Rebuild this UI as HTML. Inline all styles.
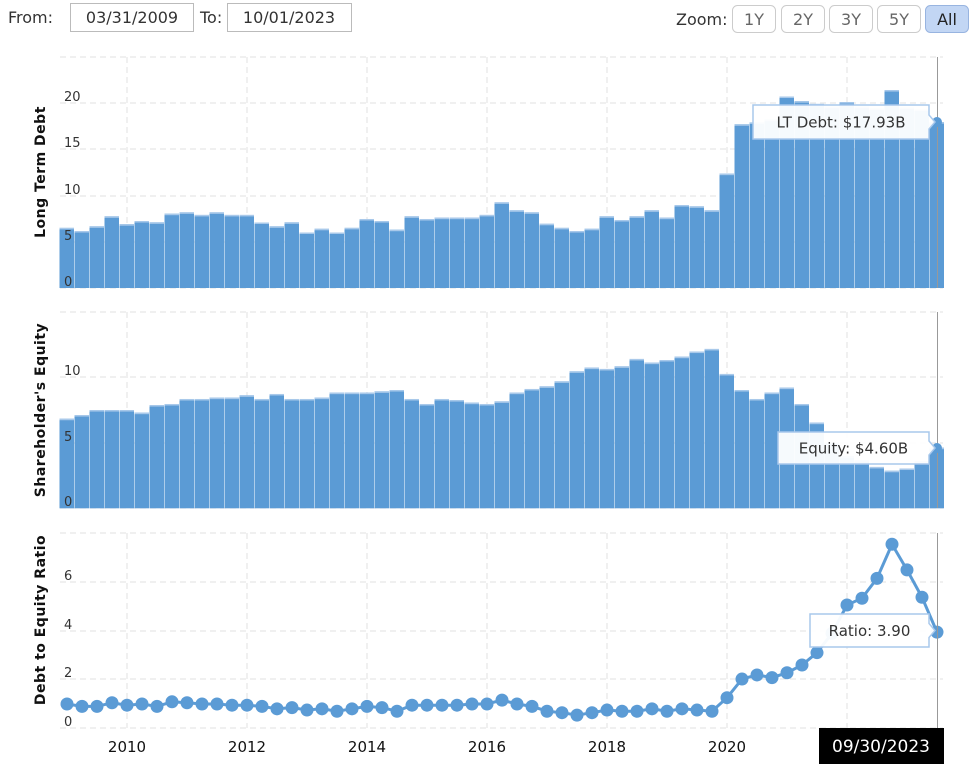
<!DOCTYPE html>
<html><head><meta charset="utf-8">
<style>
body{margin:0;width:972px;height:764px;overflow:hidden;background:#fff;font-family:"DejaVu Sans","Liberation Sans",sans-serif;}
svg{position:absolute;left:0;top:0}
</style></head><body>
<svg id="s" width="972" height="764" xmlns="http://www.w3.org/2000/svg"></svg>
<script>
var debt=[6.5,6.16,6.67,7.75,6.9,7.24,7.1,8.03,8.18,7.9,8.18,7.9,7.9,7.08,6.67,7.1,6.0,6.4,6.0,6.5,7.46,7.24,6.3,7.75,7.46,7.6,7.6,7.6,7.9,9.26,8.4,8.18,6.94,6.5,6.16,6.4,7.75,7.35,7.75,8.4,7.6,8.97,8.83,8.4,12.36,17.7,17.9,18.2,20.7,20.2,19.9,19.6,20.1,19.6,19.4,21.4,19.5,19.3,17.93];
var eq=[6.8,7.08,7.46,7.46,7.46,7.26,7.84,7.92,8.3,8.3,8.4,8.4,8.58,8.3,8.68,8.3,8.3,8.4,8.78,8.78,8.78,8.88,8.98,8.3,7.92,8.3,8.22,8.02,7.92,8.12,8.78,9.06,9.26,9.64,10.4,10.68,10.58,10.78,11.34,11.06,11.26,11.51,11.9,12.1,10.2,8.98,8.3,8.78,9.16,7.92,6.5,5.0,3.96,3.66,3.14,2.85,3.02,3.58,4.6];
var rat=[0.98,0.88,0.88,1.03,0.93,0.98,0.88,1.07,1.03,0.98,0.98,0.93,0.93,0.88,0.78,0.83,0.73,0.78,0.68,0.78,0.88,0.83,0.68,0.93,0.93,0.93,0.93,0.98,0.98,1.14,0.98,0.88,0.68,0.62,0.52,0.62,0.73,0.68,0.68,0.78,0.68,0.78,0.73,0.68,1.24,2.01,2.18,2.07,2.27,2.59,3.1,3.9,5.07,5.35,6.17,7.58,6.52,5.39,3.95];
var C="#5b9bd5",h="",lab="";
function X(k){return 67+15*k;}
function grid(top,bot,ys,labels){
  var g="";
  [127,247,367,487,607,727,847].forEach(function(x){g+='<line x1="'+x+'" y1="'+top+'" x2="'+x+'" y2="'+bot+'" stroke="#e0e0e0" stroke-dasharray="6,4"/>';});
  ys.forEach(function(y,i){g+='<line x1="60" y1="'+y+'" x2="943" y2="'+y+'" stroke="#e0e0e0" stroke-dasharray="6,4"/>';
    if(labels[i]!=="")lab+='<text x="64" y="'+(y-2)+'" font-size="13" fill="#333">'+labels[i]+'</text>';});
  return g;}
// panel 1
h+=grid(57,288,[57,103,149,196,242,288],["","20","15","10","5","0"]);
debt.forEach(function(v,k){var y=288-v*9.25;h+='<rect x="'+(X(k)-7.5)+'" y="'+y+'" width="14.5" height="'+(288-y)+'" fill="'+C+'"/><rect x="'+(X(k)-7.5)+'" y="'+y+'" width="14.5" height="1.5" fill="#a9c9ea"/>';});
// panel 2
h+=grid(312,508,[312,377,443,508],["","10","5","0"]);
eq.forEach(function(v,k){var y=508.3-v*13.17;h+='<rect x="'+(X(k)-7.5)+'" y="'+y+'" width="14.5" height="'+(508.3-y)+'" fill="'+C+'"/><rect x="'+(X(k)-7.5)+'" y="'+y+'" width="14.5" height="1.5" fill="#a9c9ea"/>';});
// panel 3
h+=grid(533,728,[533,582,631,679,728],["","6","4","2","0"]);
var pts=rat.map(function(v,k){return X(k)+","+(727.7-v*24.2).toFixed(1);});
h+='<polyline points="'+pts.join(" ")+'" fill="none" stroke="'+C+'" stroke-width="3"/>';
rat.forEach(function(v,k){h+='<circle cx="'+X(k)+'" cy="'+(727.7-v*24.2)+'" r="6.5" fill="'+C+'"/>';});
h+=lab;
// crosshair
h+='<line x1="937.5" y1="57" x2="937.5" y2="288" stroke="#999"/><line x1="937.5" y1="312" x2="937.5" y2="508" stroke="#999"/><line x1="937.5" y1="533" x2="937.5" y2="728" stroke="#999"/>';
h+='<circle cx="937" cy="122" r="5" fill="'+C+'"/><circle cx="937" cy="448" r="5" fill="'+C+'"/>';
// axis titles
function vt(x,y,t){return '<text transform="translate('+x+','+y+') rotate(-90)" text-anchor="middle" font-size="14" font-weight="bold" fill="#111" letter-spacing="0.5">'+t+'</text>';}
h+=vt(45,172,"Long Term Debt")+vt(45,410,"Shareholder's Equity")+vt(45,620,"Debt to Equity Ratio");
// x labels
[["2010",127],["2012",247],["2014",367],["2016",487],["2018",607],["2020",727]].forEach(function(a){h+='<text x="'+a[1]+'" y="752" text-anchor="middle" font-size="15" fill="#111">'+a[0]+'</text>';});
h+='<rect x="819" y="728" width="125" height="36" fill="#000"/><text x="881" y="752" text-anchor="middle" font-size="17" fill="#fff">09/30/2023</text>';
// tooltips
function tip(x1,y1,x2,y2,t){var my=(y1+y2)/2;return '<path d="M'+x1+' '+y1+' H'+x2+' V'+(my-7)+' L'+(x2+6)+' '+my+' L'+x2+' '+(my+7)+' V'+y2+' H'+x1+' Z" fill="#fff" fill-opacity="0.95" stroke="#a8c8ec" stroke-width="1.5"/><text x="'+((x1+x2)/2)+'" y="'+(my+5.5)+'" text-anchor="middle" font-size="15" fill="#333">'+t+'</text>';}
h+=tip(753,105,929,139,"LT Debt: $17.93B");
h+=tip(778,432,929,464,"Equity: $4.60B");
h+=tip(810,614,929,647,"Ratio: 3.90");
// header
h+='<text x="8" y="23" font-size="16" fill="#333">From:</text><rect x="70.5" y="3.5" width="123" height="28" fill="#fff" stroke="#bbb"/><text x="132" y="23" text-anchor="middle" font-size="16" fill="#333">03/31/2009</text>';
h+='<text x="200" y="23" font-size="16" fill="#333">To:</text><rect x="227.5" y="3.5" width="124" height="28" fill="#fff" stroke="#bbb"/><text x="289" y="23" text-anchor="middle" font-size="16" fill="#333">10/01/2023</text>';
h+='<text x="676" y="25" font-size="16" fill="#333">Zoom:</text>';
[["1Y",732],["2Y",781],["3Y",829],["5Y",877],["All",925]].forEach(function(b){var a=b[0]=="All";h+='<rect x="'+b[1]+'.5" y="5.5" width="43" height="27" rx="5" fill="'+(a?"#c2d6f4":"#fff")+'" stroke="'+(a?"#98b4e0":"#ccc")+'"/><text x="'+(b[1]+22)+'" y="25" text-anchor="middle" font-size="16" fill="'+(a?"#222":"#666")+'">'+b[0]+'</text>';});
document.getElementById("s").innerHTML=h;
</script>
</body></html>
